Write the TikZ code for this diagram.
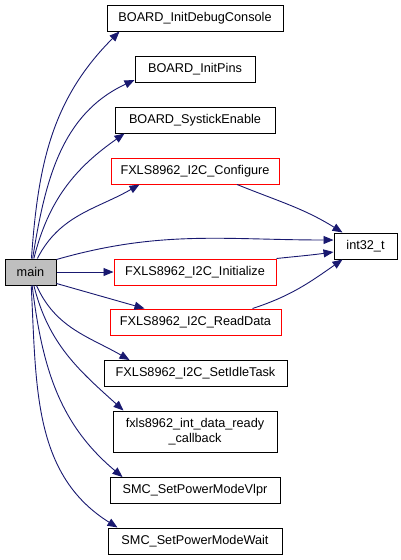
\documentclass[tikz,border=0pt]{standalone}
\usepackage{fontspec}
\setmainfont{Liberation Sans}
\usepackage{tikz}
\usetikzlibrary{arrows.meta}
\definecolor{edgeblue}{RGB}{25,25,112}
\definecolor{maingray}{RGB}{191,191,191}

\begin{document}
\begin{tikzpicture}[
    x=1pt, y=-1pt,
    box/.style={draw, rectangle, line width=1pt, fill=white, inner sep=0pt,
                minimum height=26pt, align=center,
                font=\fontsize{12.7}{15}\selectfont},
    trunc/.style={box, draw=red},
    call/.style={-{Triangle[length=10pt,width=8pt]}, draw=edgeblue,
                 line width=0.9pt}
]
    \useasboundingbox (0,0) rectangle (401,560);

    \node[box, fill=maingray, minimum width=51pt] (main) at (30.5,272) {main};

    \node[box, minimum width=176pt] (debug) at (195,18) {BOARD\_InitDebugConsole};
    \node[box, minimum width=120pt] (pins) at (195,69.5) {BOARD\_InitPins};
    \node[box, minimum width=160pt] (systick) at (195,120) {BOARD\_SystickEnable};
    \node[trunc, minimum width=168pt] (configure) at (195,171) {FXLS8962\_I2C\_Configure};
    \node[box, minimum width=63pt] (int32) at (365.5,246) {int32\_t};
    \node[trunc, minimum width=162pt] (initialize) at (195,272) {FXLS8962\_I2C\_Initialize};
    \node[trunc, minimum width=171pt] (readdata) at (195.5,322) {FXLS8962\_I2C\_ReadData};
    \node[box, minimum width=183pt] (idletask) at (195.5,373.5) {FXLS8962\_I2C\_SetIdleTask};
    \node[box, minimum width=164pt, minimum height=41pt] (callback) at (195,431.5)
        {fxls8962\_int\_data\_ready\\\_callback};
    \node[box, minimum width=170pt] (vlpr) at (195,490.5) {SMC\_SetPowerModeVlpr};
    \node[box, minimum width=174pt] (wait) at (195,541) {SMC\_SetPowerModeWait};

    % calls from main
    \draw[call] (main) to[out=86, in=225] ([xshift=13pt]debug.south west);
    \draw[call] (main) to[out=81, in=205] ([yshift=3pt]pins.south west);
    \draw[call] (main) to[out=76, in=215] ([xshift=10pt]systick.south west);
    \draw[call] (main) to[out=63, in=210] ([xshift=29pt]configure.south west);
    \draw[call] ([yshift=-1pt]main.north east) to[out=16, in=180] ([yshift=6pt]int32.west);
    \draw[call] (main) -- (initialize);
    \draw[call] ([yshift=2pt]main.south east) -- ([xshift=35pt]readdata.north west);
    \draw[call] (main) to[out=-66, in=150] ([xshift=26pt]idletask.north west);
    \draw[call] (main) to[out=-76, in=138] ([xshift=11pt]callback.north west);
    \draw[call] (main) to[out=-83, in=140] ([xshift=13pt]vlpr.north west);
    \draw[call] (main) to[out=-87, in=148] ([xshift=10pt]wait.north west);

    % calls into int32_t
    \draw[call] ([xshift=42pt]configure.south) to[out=-22, in=148] ([xshift=9pt]int32.north west);
    \draw[call] (initialize.north east) to[out=6, in=188] ([yshift=-6pt]int32.west);
    \draw[call] ([xshift=57pt]readdata.north) to[out=18, in=215] ([xshift=9pt]int32.south west);
\end{tikzpicture}
\end{document}
